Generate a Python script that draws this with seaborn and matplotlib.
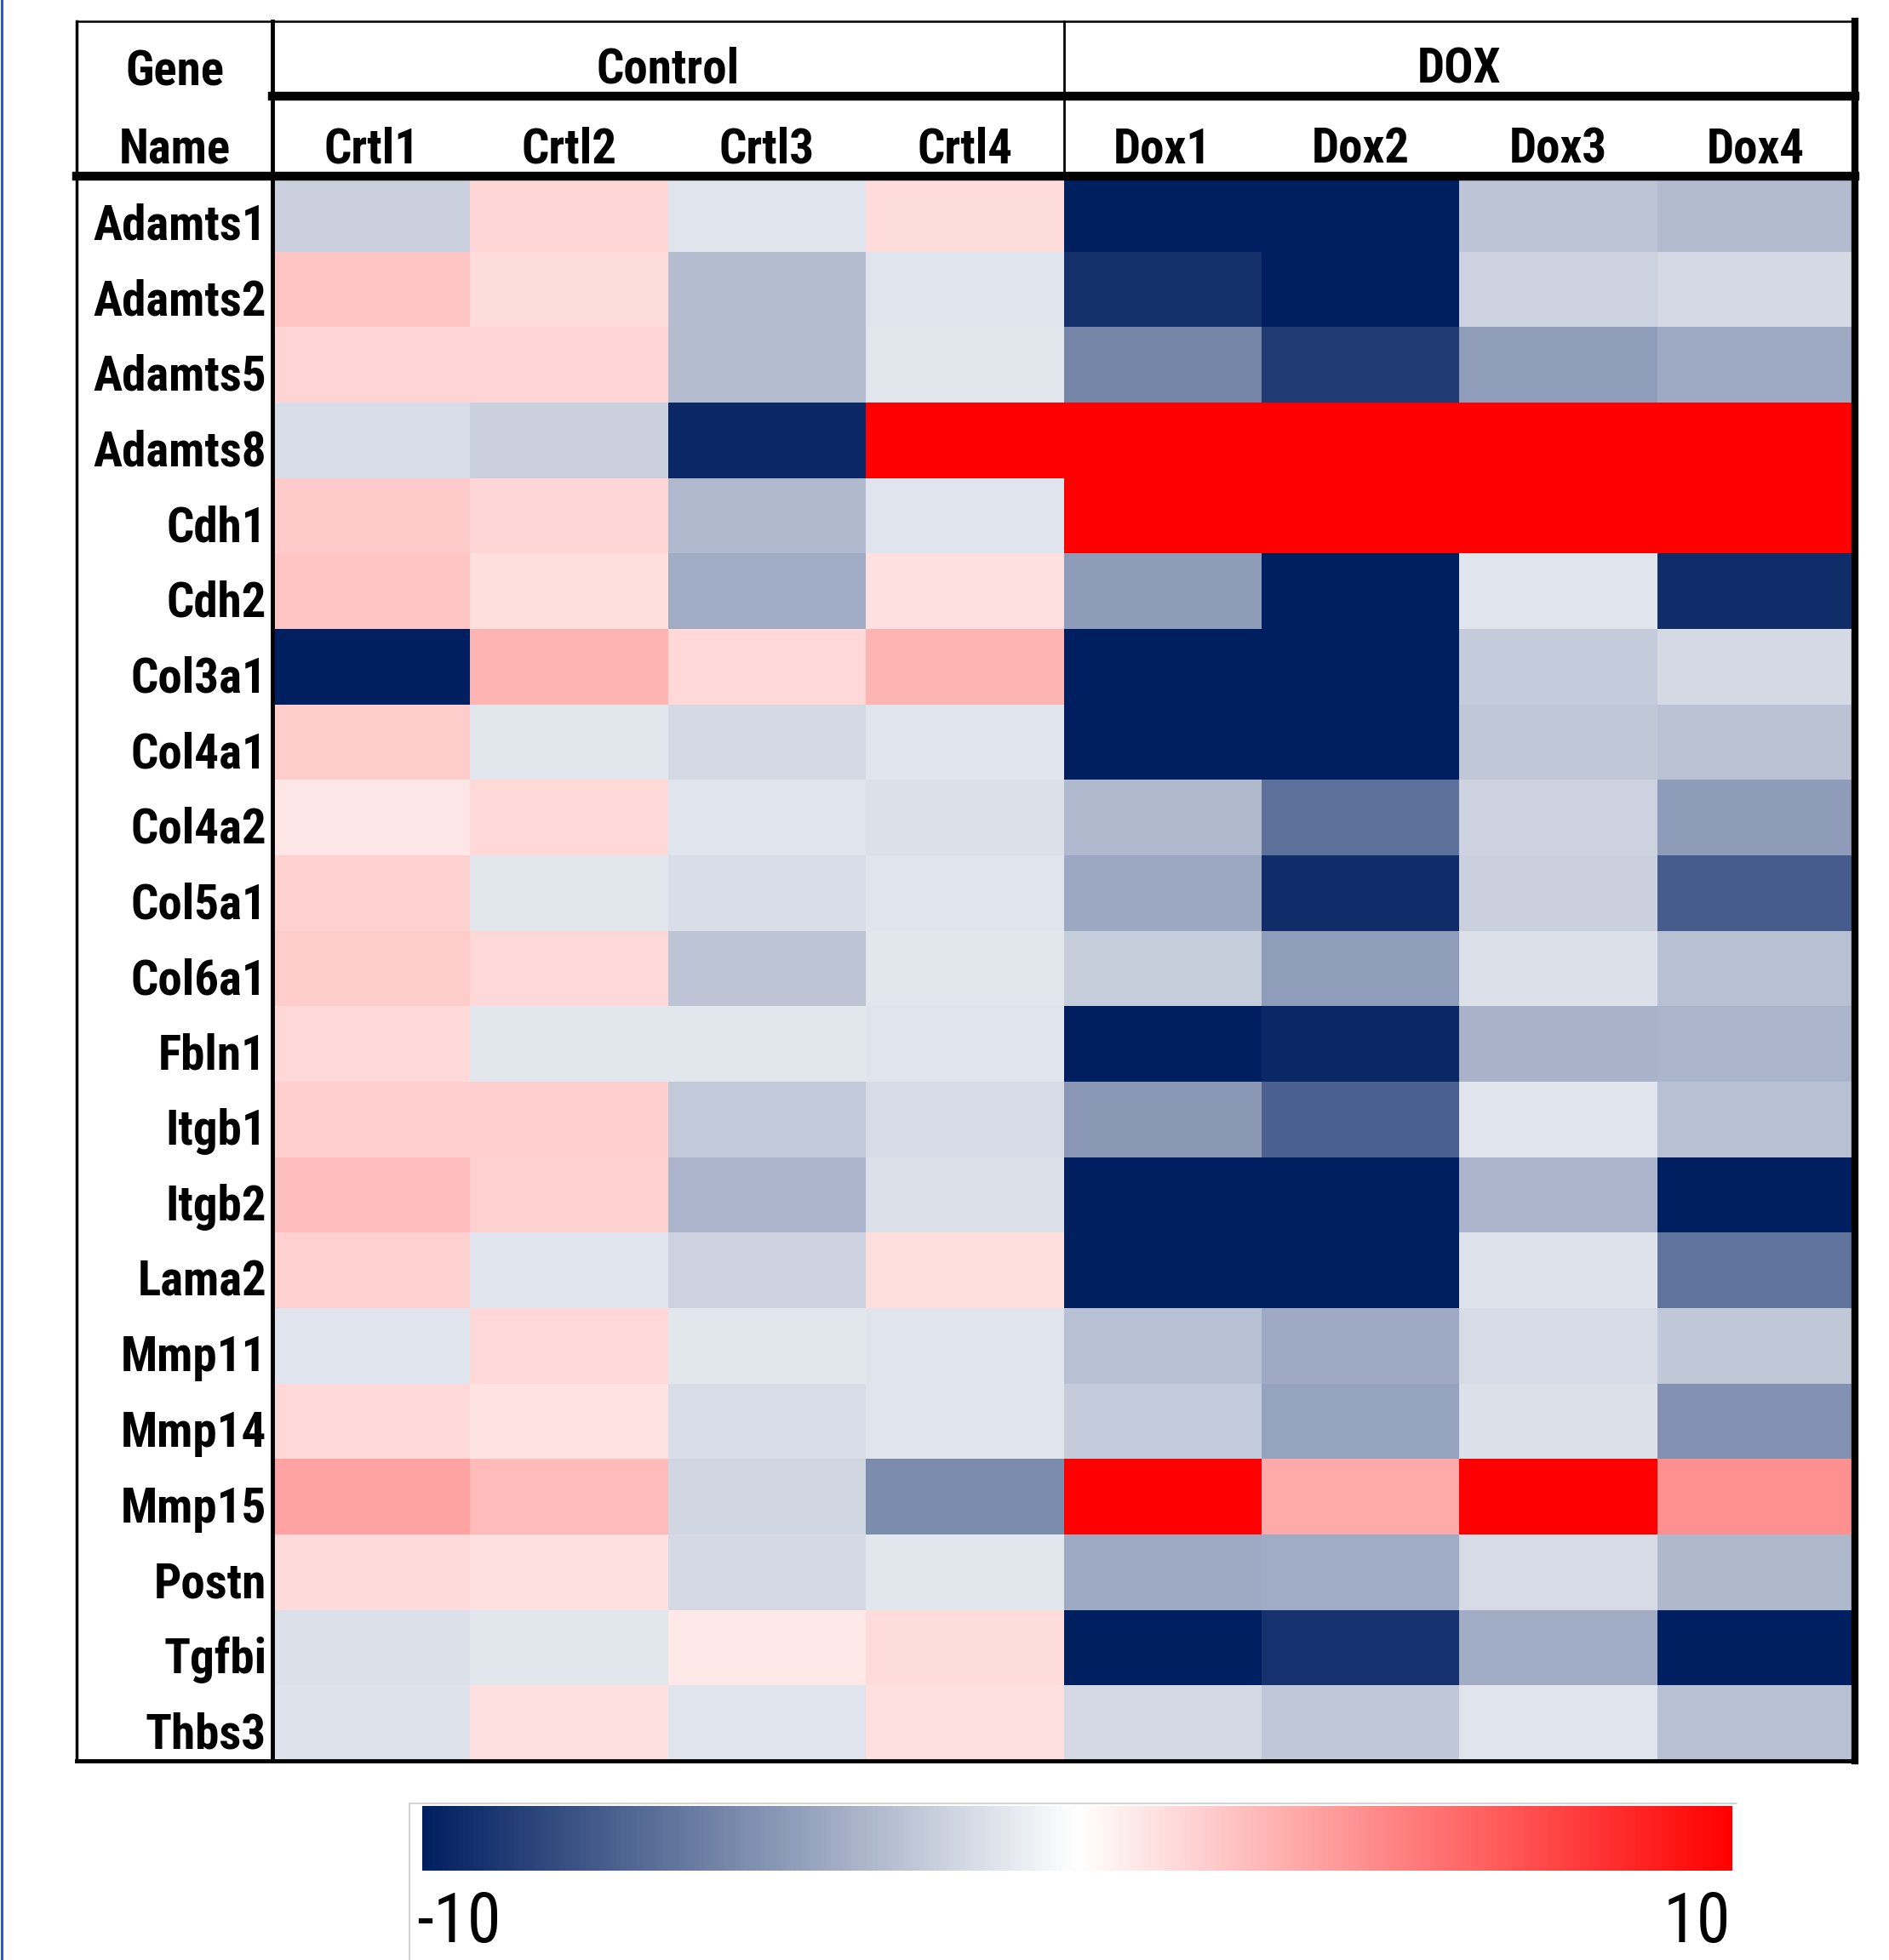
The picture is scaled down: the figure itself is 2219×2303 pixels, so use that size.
import numpy as np
import pandas as pd
import matplotlib
matplotlib.use("Agg")
import matplotlib.pyplot as plt
from matplotlib.colors import LinearSegmentedColormap
from matplotlib.lines import Line2D
from matplotlib import font_manager as fm
import seaborn as sns

genes = ["Adamts1", "Adamts2", "Adamts5", "Adamts8", "Cdh1", "Cdh2", "Col3a1",
         "Col4a1", "Col4a2", "Col5a1", "Col6a1", "Fbln1", "Itgb1", "Itgb2",
         "Lama2", "Mmp11", "Mmp14", "Mmp15", "Postn", "Tgfbi", "Thbs3"]
samples = ["Crtl1", "Crtl2", "Crtl3", "Crtl4", "Dox1", "Dox2", "Dox3", "Dox4"]
groups = ["Control", "DOX"]

crtl1 = [-2.1, 2.3, 1.7, -1.5, 2.1, 2.3, -10, 2.0, 1.0, 1.8, 2.0, 1.5, 1.9, 2.5, 1.8, -1.2, 1.5, 3.6, 1.45, -1.4, -1.3]
crtl2 = [1.6, 1.4, 1.7, -2.1, 1.6, 1.3, 2.9, -1.1, 1.5, -1.1, 1.5, -1.1, 1.9, 1.8, -1.2, 1.5, 1.1, 2.7, 1.2, -1.1, 1.2]
crtl3 = [-1.2, -2.9, -2.9, -9.6, -3.1, -3.7, 1.5, -1.7, -1.2, -1.5, -2.6, -1.1, -2.4, -3.3, -2.0, -1.1, -1.5, -1.8, -1.7, 0.9, -1.2]
crtl4 = [1.4, -1.2, -1.1, 10, -1.2, 1.2, 2.9, -1.2, -1.4, -1.2, -1.1, -1.2, -1.6, -1.4, 1.3, -1.2, -1.2, -5.1, -1.1, 1.4, 1.2]
dox1 = [-10, -9.2, -5.4, 10, 10, -4.4, -10, -10, -3.1, -3.9, -2.2, -10, -4.6, -10, -10, -2.8, -2.3, 10, -3.8, -10, -1.7]
dox2 = [-10, -10, -8.7, 10, 10, -10, -10, -10, -6.4, -9.3, -4.3, -9.6, -7.1, -10, -10, -3.8, -4.1, 3.3, -3.7, -9.1, -2.5]
dox3 = [-2.6, -2.0, -4.3, 10, 10, -1.2, -2.3, -2.5, -2.0, -2.1, -1.4, -3.4, -1.2, -3.3, -1.3, -1.6, -1.4, 10, -1.6, -3.7, -1.2]
dox4 = [-3.0, -1.7, -3.8, 10, 10, -9.3, -1.7, -2.7, -4.4, -7.2, -2.8, -3.3, -2.8, -10, -6.2, -2.5, -4.9, 4.3, -3.2, -10, -2.8]

cbar_min_label = "-10"
cbar_max_label = "10"

df = pd.DataFrame({s: v for s, v in zip(samples, [crtl1, crtl2, crtl3, crtl4, dox1, dox2, dox3, dox4])},
                  index=genes)

sns.set_theme(style="white")

# pick a condensed font if available, otherwise a narrow-ish one
candidates = [("Roboto Condensed", 41, 58), ("Liberation Sans Narrow", 40, 56),
              ("DejaVu Sans Condensed", 36, 52), ("Lato", 35, 52)]
FONT, LBL_SIZE, CB_SIZE = "DejaVu Sans", 30, 50
for name, s1, s2 in candidates:
    try:
        fm.findfont(fm.FontProperties(family=name), fallback_to_default=False)
        FONT, LBL_SIZE, CB_SIZE = name, s1, s2
        break
    except Exception:
        continue
FAM = [FONT, "DejaVu Sans"]
plt.rcParams["font.family"] = FAM

cmap = LinearSegmentedColormap.from_list("excel3", ["#001F60", "#FFFFFF", "#FF0000"])

W, H = 2219, 2303
fig = plt.figure(figsize=(W / 100, H / 100), dpi=100)
fig.patch.set_facecolor("white")

ax = fig.add_axes([320 / W, 1 - 2069 / H, 1859 / W, 1862 / H])
cax = fig.add_axes([496 / W, 1 - 2198 / H, 1539 / W, 76 / H])

sns.heatmap(df, ax=ax, cmap=cmap, vmin=-10, vmax=10, cbar=True, cbar_ax=cax,
            cbar_kws={"orientation": "horizontal"}, xticklabels=False, yticklabels=False,
            linewidths=0)
ax.set_xlabel("")
ax.set_ylabel("")

txt_kw = dict(fontsize=LBL_SIZE, fontweight="bold", color="black", family=FAM, clip_on=False)

# gene names (row labels)
for i, g in enumerate(genes):
    ax.text(-0.03, i + 0.84, g, ha="right", va="baseline", **txt_kw)

# header texts
ytop, ymid = -2.05, -1.06
xleft = -0.99
for i, s in enumerate(samples):
    ax.text(i + 0.5, -0.18, s, ha="center", va="baseline", **txt_kw)
for g, xc in zip(groups, [2.0, 6.0]):
    ax.text(xc, -1.24, g, ha="center", va="baseline", **txt_kw)
ax.text(xleft / 2, -1.2, "Gene", ha="center", va="baseline", **txt_kw)
ax.text(xleft / 2, -0.18, "Name", ha="center", va="baseline", **txt_kw)

# table lines
def hl(y, x0, x1, lw):
    ax.add_line(Line2D([x0, x1], [y, y], color="black", lw=lw, clip_on=False, solid_capstyle="projecting"))

def vl(x, y0, y1, lw):
    ax.add_line(Line2D([x, x], [y0, y1], color="black", lw=lw, clip_on=False, solid_capstyle="projecting"))

n = len(genes)
hl(ytop, xleft, 8, 1.8)
hl(ymid, 0, 8, 7.5)
hl(0, xleft, 8, 7.5)
hl(n, xleft, 8, 3.5)
vl(xleft, ytop, n, 2.5)
vl(0, ytop, n, 3.5)
vl(4, ytop, 0, 2.0)
vl(8, ytop, n, 6.0)

# colorbar styling
cb = ax.collections[0].colorbar
cb.outline.set_visible(False)
cax.set_xticks([])
cax.set_yticks([])
for sp in cax.spines.values():
    sp.set_visible(False)

fig.text(489 / W, 1 - 2282 / H, cbar_min_label, fontsize=CB_SIZE, ha="left", va="baseline", family=FAM, color="black")
fig.text(2033 / W, 1 - 2282 / H, cbar_max_label, fontsize=CB_SIZE, ha="right", va="baseline", family=FAM, color="black")

# faint frame around colorbar area and blue left edge
fig.add_artist(Line2D([481 / W, 481 / W], [0, 1 - 2119 / H], transform=fig.transFigure, color="#cccccc", lw=1.2))
fig.add_artist(Line2D([481 / W, 2040 / W], [1 - 2119 / H, 1 - 2119 / H], transform=fig.transFigure, color="#cccccc", lw=1.2))
fig.add_artist(Line2D([1.5 / W, 1.5 / W], [0, 1], transform=fig.transFigure, color="#2f55c8", lw=2.2))

fig.savefig("out.png", dpi=100, facecolor="white")
